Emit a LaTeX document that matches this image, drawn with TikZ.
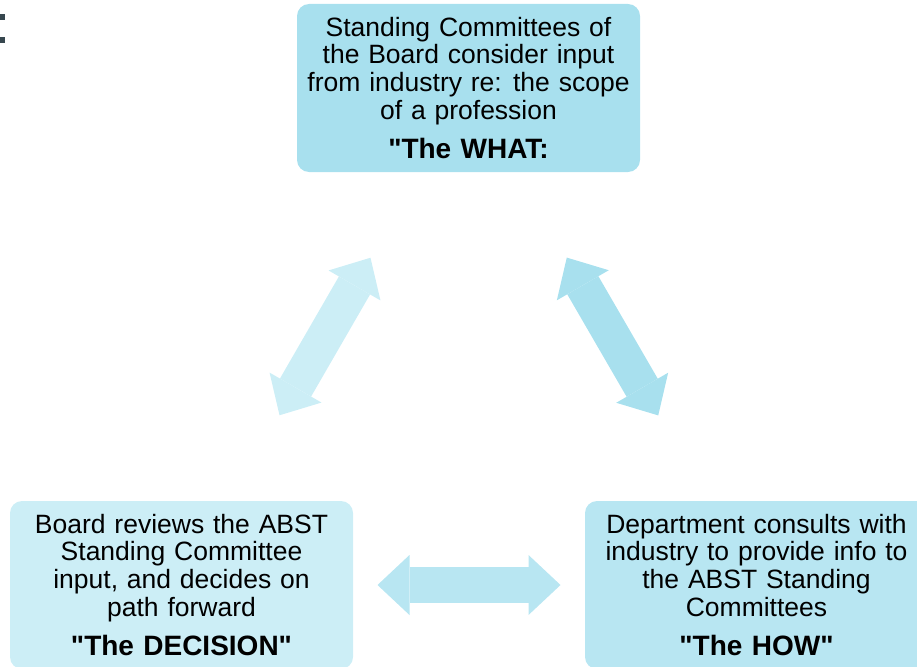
\documentclass[tikz,border=0pt]{standalone}
\usepackage{fontspec}
\setmainfont{Liberation Sans}[WordSpace=1.2,Ligatures=TeXOff]
\usepackage{tikz}
\usetikzlibrary{arrows.meta}
\definecolor{whatblue}{RGB}{168,224,238}
\definecolor{howblue}{RGB}{184,230,242}
\definecolor{decblue}{RGB}{204,238,246}
\definecolor{slate}{RGB}{55,71,79}
\tikzset{stage/.style={rounded corners=12pt,minimum width=343pt,minimum
height=168pt,inner sep=0pt,align=center,text=black,font=\fontsize{26.5}{27.7}\selectfont},
link/.style={line width=36pt,{Triangle[length=32pt,width=60pt,line width=0pt]}-{Triangle[length=32pt,width=60pt,line width=0pt]},shorten <=196pt,shorten >=196pt}}
\newcommand{\tagline}[1]{{\fontsize{28}{28}\selectfont\bfseries #1}}

\begin{document}
\begin{tikzpicture}[x=1pt,y=-1pt]
		\useasboundingbox (0,0) rectangle (917,666);
		\clip (0,0) rectangle (917,666);

		\fill[slate] (0,14) rectangle (5,20);
		\fill[slate] (0,37) rectangle (5,43);

		\node[stage,fill=whatblue] (what) at (468.5,88) {Standing Committees of\\the Board consider input\\from industry re: the scope\\of a profession\\[12pt]\tagline{"The WHAT:}};
		\node[stage,fill=decblue] (decision) at (181.5,585) {Board reviews the ABST\\Standing Committee\\input, and decides on\\path forward\\[12pt]\tagline{"The DECISION"}};
		\node[stage,fill=howblue] (how) at (756.5,585) {Department consults with\\industry to provide info to\\the ABST Standing\\Committees\\[12pt]\tagline{"The HOW"}};

		\draw[link,decblue] (decision.center) -- (what.center);
		\draw[link,whatblue] (what.center) -- (how.center);
		\draw[link,howblue] (decision.center) -- (how.center);
	\end{tikzpicture}
\end{document}
